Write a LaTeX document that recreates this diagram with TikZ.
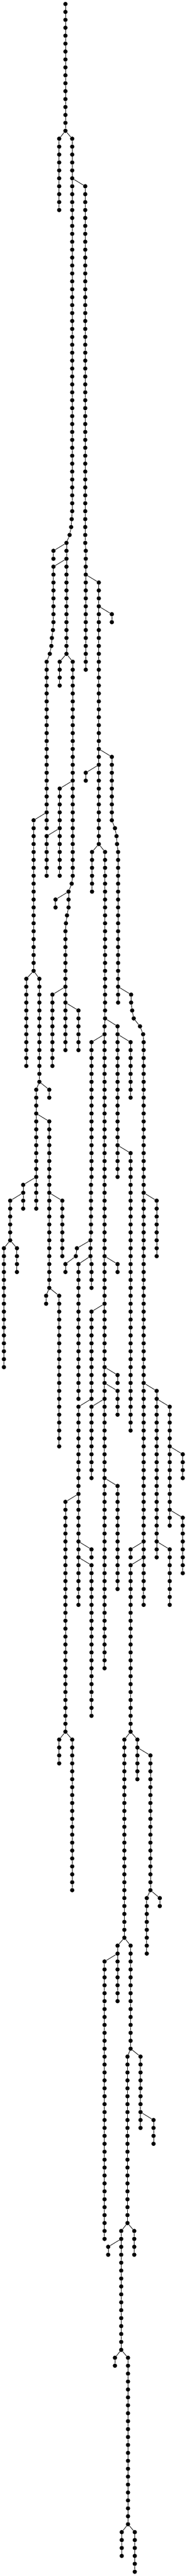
\documentclass[tikz,border=0pt]{standalone}
\tikzset{
  dot/.style={circle,fill=black,draw=none,inner sep=0pt,minimum size=8.25pt},
  link/.style={draw=black,line width=0.9pt}
}
% a vertical run of dots in column #1, rows #2 to #3
\newcommand\dotrun[3]{%
  \foreach \k in {#2,...,#3}{%
    \node[dot] (d#1-\k) at (#1,\k) {};
    \ifnum\k>#2\relax
      \pgfmathtruncatemacro\prevk{\k-1}%
      \draw[link] (d#1-\prevk) -- (d#1-\k);
    \fi
  }%
}
% parent column #1 row #2, then a run in column #3, rows #4 to #5
\newcommand\limb[5]{%
  \dotrun{#3}{#4}{#5}%
  \draw[link] (d#1-#2) -- (d#3-#4);
}
\begin{document}
\begin{tikzpicture}[x=0.25pt,y=-15.19875pt]
\useasboundingbox (0,-0.5033) rectangle (1434,324.54);
\dotrun{502}{0}{16}
\limb{502}{16}{454}{17}{26}
\limb{502}{16}{554}{17}{64}
\limb{554}{22}{654}{23}{68}
\limb{554}{64}{550}{65}{65}
\limb{550}{65}{546}{66}{66}
\limb{546}{66}{534}{67}{67}
\limb{534}{67}{510}{68}{82}
\limb{510}{68}{410}{69}{70}
\limb{510}{70}{410}{71}{78}
\limb{410}{78}{406}{79}{79}
\limb{406}{79}{398}{80}{80}
\limb{398}{80}{394}{81}{81}
\limb{394}{81}{382}{82}{82}
\limb{382}{82}{358}{83}{104}
\limb{654}{68}{658}{69}{84}
\limb{658}{72}{758}{73}{106}
\limb{758}{76}{858}{77}{78}
\limb{758}{94}{858}{95}{103}
\limb{758}{96}{658}{97}{98}
\limb{858}{103}{882}{104}{104}
\limb{882}{104}{894}{105}{105}
\limb{894}{105}{898}{106}{106}
\limb{898}{106}{906}{107}{126}
\limb{758}{106}{706}{107}{112}
\limb{758}{106}{806}{107}{128}
\limb{510}{82}{458}{83}{86}
\limb{510}{82}{558}{83}{110}
\limb{558}{98}{458}{99}{110}
\limb{458}{104}{358}{105}{110}
\limb{358}{102}{258}{103}{122}
\limb{558}{110}{550}{111}{111}
\limb{550}{111}{526}{112}{114}
\limb{526}{112}{426}{113}{114}
\limb{526}{114}{514}{115}{115}
\limb{514}{115}{506}{116}{116}
\limb{506}{116}{502}{117}{132}
\limb{502}{124}{402}{125}{134}
\limb{502}{126}{602}{127}{132}
\limb{258}{122}{202}{123}{134}
\limb{258}{122}{302}{123}{136}
\limb{302}{136}{278}{137}{152}
\limb{302}{136}{378}{137}{138}
\limb{278}{140}{378}{141}{162}
\limb{278}{148}{178}{149}{152}
\limb{178}{150}{78}{151}{156}
\limb{78}{156}{30}{157}{172}
\limb{78}{156}{130}{157}{160}
\limb{378}{150}{478}{151}{158}
\limb{378}{162}{354}{163}{164}
\limb{378}{162}{454}{163}{182}
\limb{906}{124}{1006}{125}{126}
\limb{1006}{126}{1014}{127}{127}
\limb{1014}{127}{1026}{128}{128}
\limb{1026}{128}{1074}{129}{129}
\limb{1074}{129}{1098}{130}{130}
\limb{1098}{130}{1102}{131}{202}
\limb{1102}{150}{1202}{151}{158}
\limb{1102}{174}{1202}{175}{196}
\limb{1202}{176}{1302}{177}{192}
\limb{1302}{182}{1402}{183}{186}
\limb{1302}{190}{1402}{191}{198}
\limb{1202}{194}{1302}{195}{202}
\limb{1102}{194}{1002}{195}{196}
\limb{1102}{196}{1002}{197}{218}
\limb{806}{128}{802}{129}{210}
\limb{806}{128}{902}{129}{148}
\limb{802}{130}{702}{131}{148}
\limb{902}{130}{1002}{131}{138}
\limb{902}{144}{1002}{145}{180}
\limb{702}{148}{698}{149}{155}
\limb{698}{155}{694}{156}{158}
\limb{694}{156}{590}{157}{157}
\limb{590}{157}{582}{158}{158}
\limb{582}{158}{502}{159}{160}
\limb{694}{158}{602}{159}{176}
\limb{694}{158}{702}{159}{162}
\limb{802}{158}{902}{159}{160}
\limb{802}{164}{702}{165}{176}
\limb{802}{172}{902}{173}{174}
\limb{802}{174}{902}{175}{178}
\limb{802}{176}{702}{177}{186}
\limb{702}{176}{602}{177}{202}
\limb{802}{186}{902}{187}{200}
\limb{602}{188}{502}{189}{218}
\limb{602}{194}{702}{195}{196}
\limb{602}{196}{702}{197}{216}
\limb{502}{218}{454}{219}{222}
\limb{502}{218}{554}{219}{238}
\limb{1002}{218}{954}{219}{244}
\limb{1002}{218}{1054}{219}{224}
\limb{1054}{220}{1154}{221}{238}
\limb{1154}{238}{1126}{239}{246}
\limb{1154}{238}{1226}{239}{240}
\limb{954}{244}{902}{245}{252}
\limb{954}{244}{1002}{245}{258}
\limb{902}{246}{802}{247}{282}
\limb{1002}{258}{978}{259}{280}
\limb{1002}{258}{1078}{259}{268}
\limb{1078}{266}{1178}{267}{270}
\limb{978}{280}{930}{281}{296}
\limb{978}{280}{1030}{281}{284}
\limb{930}{282}{830}{283}{284}
\limb{930}{296}{882}{297}{298}
\limb{930}{296}{982}{297}{318}
\limb{982}{318}{934}{319}{322}
\limb{982}{318}{1034}{319}{324}
\end{tikzpicture}
\end{document}
